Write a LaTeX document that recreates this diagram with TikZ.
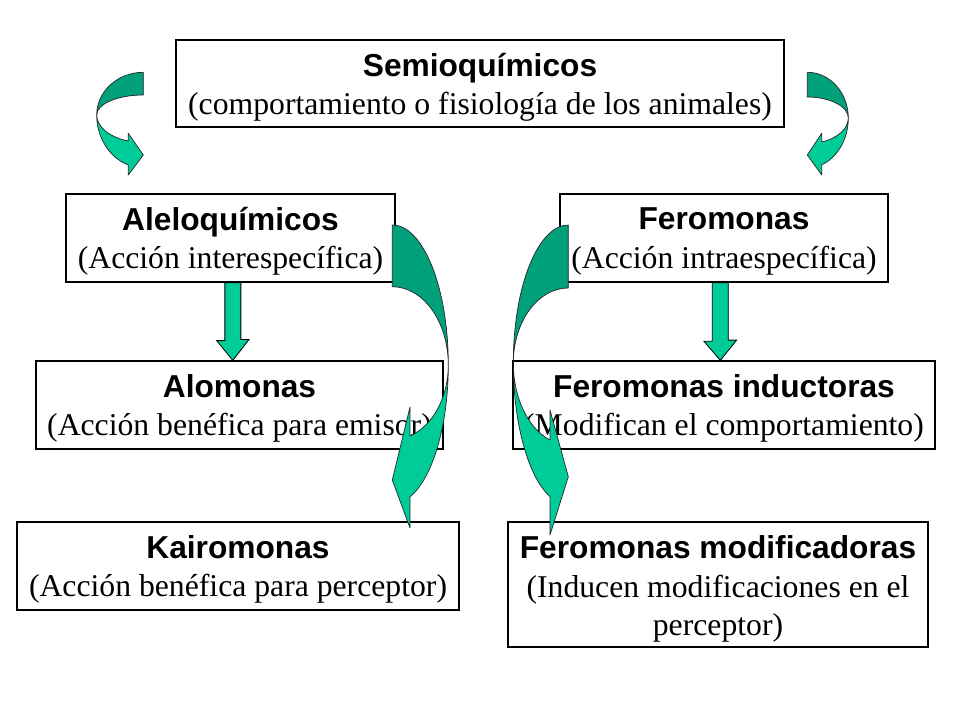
\documentclass[tikz,border=0pt]{standalone}
\usepackage{fontspec}
\setmainfont{Liberation Serif}
\setsansfont{Liberation Sans}
\usetikzlibrary{calc}
\definecolor{gdark}{RGB}{0,160,122}
\definecolor{glight}{RGB}{0,204,153}
\begin{document}
\begin{tikzpicture}[x=1pt,y=-1pt,
  box/.style={draw=black,line width=1.2pt,fill=white,rectangle,inner sep=0pt},
  txt/.style={align=center,inner sep=0pt,font={\fontsize{31.7}{38.3}\selectfont}},
  backpart/.style={fill=gdark,draw=black!85,line width=0.7pt,line join=round},
  frontpart/.style={fill=glight,draw=black!85,line width=0.7pt,line join=round},
  varrow/.style={fill=glight,draw=black,line width=0.8pt,line join=miter}]
\useasboundingbox[fill=white] (0,0) rectangle (960,720);
\newcommand{\hd}[1]{{\sffamily\bfseries #1}}
% boxes
\node[box,minimum width=608pt,minimum height=87pt] (semio) at (480,83.5) {};
\node[box,minimum width=329pt,minimum height=88pt] (alelo) at (230.5,238) {};
\node[box,minimum width=328pt,minimum height=88pt] (fero) at (724,238) {};
\node[box,minimum width=407pt,minimum height=88pt] (alom) at (239.5,405) {};
\node[box,minimum width=422pt,minimum height=88pt] (indu) at (724,405) {};
\node[box,minimum width=442pt,minimum height=88pt] (kairo) at (238,566) {};
\node[box,minimum width=420pt,minimum height=125pt] (modif) at (718,584.5) {};
% texts
\node[txt] (semio-t) at ($(semio.center)+(0,3.5)$)
  {\hd{Semioquímicos}\\(comportamiento o fisiología de los animales)};
\node[txt] (alelo-t) at ($(alelo.center)+(0,3.5)$)
  {\hd{Aleloquímicos}\\(Acción interespecífica)};
\node[txt] (fero-t) at ($(fero.center)+(0,3.5)$)
  {\hd{Feromonas}\\(Acción intraespecífica)};
\node[txt] (alom-t) at ($(alom.center)+(0,3.5)$)
  {\hd{Alomonas}\\(Acción benéfica para emisor)};
\node[txt] (indu-t) at ($(indu.center)+(0,3.5)$)
  {\hd{Feromonas inductoras}\\(Modifican el comportamiento)};
\node[txt] (kairo-t) at ($(kairo.center)+(0,3.5)$)
  {\hd{Kairomonas}\\(Acción benéfica para perceptor)};
\node[txt] (modif-t) at ($(modif.center)+(0,4.5)$)
  {\hd{Feromonas modificadoras}\\(Inducen modificaciones en el\\perceptor)};
% straight block arrows
\draw[varrow] ($(alelo.south)+(2.35-8,0)$) -- ++(0,58) -- ++(-8.2,0)
  -- ($(alom.north)+(-6.65,0)$) -- ++(16.2,-21) -- ++(-8.2,0)
  -- ($(alelo.south)+(2.35+8,0)$) -- cycle;
\draw[varrow] ($(fero.south)+(-3.7-8,0)$) -- ++(0,58.7) -- ++(-8.3,0)
  -- ($(indu.north)+(-3.7,0)$) -- ++(16.3,-20.3) -- ++(-8.3,0)
  -- ($(fero.south)+(-3.7+8,0)$) -- cycle;
% small curved arrow, left
\draw[backpart] (143.3,72.3) arc[start angle=-90,end angle=-180,x radius=46.6,y radius=42.7]
  arc[start angle=180,end angle=270,x radius=46.6,y radius=20] -- cycle;
\draw[frontpart] (96.7,115) arc[start angle=180,end angle=108.8,x radius=46.6,y radius=52.8]
  -- (128.3,175) -- (143.3,155) -- (128.3,133.3) -- (128.28,141.03)
  arc[start angle=108.8,end angle=180,x radius=46.6,y radius=27.5] -- cycle;
% small curved arrow, right
\draw[backpart] (807.3,72.3) arc[start angle=-90,end angle=0,x radius=41,y radius=45.7]
  arc[start angle=0,end angle=-90,x radius=41,y radius=21] -- cycle;
\draw[frontpart] (848.3,118) arc[start angle=0,end angle=69.45,x radius=41,y radius=50]
  -- (821.7,175) -- (807.3,155) -- (821.7,133.3) -- (821.69,141.97)
  arc[start angle=69.45,end angle=0,x radius=41,y radius=25.6] -- cycle;
% big curved arrow, left
\draw[backpart] (392.3,225) arc[start angle=-90,end angle=0,x radius=56,y radius=140]
  arc[start angle=0,end angle=-90,x radius=56,y radius=78.3] -- cycle;
\draw[frontpart] (448.3,365) arc[start angle=0,end angle=71.6,x radius=56,y radius=139]
  -- (410,528) -- (392.3,480) -- (410,407) -- (409.97,435.98)
  arc[start angle=71.6,end angle=0,x radius=56,y radius=74.8] -- cycle;
% big curved arrow, right
\draw[backpart] (568.3,225) arc[start angle=-90,end angle=-180,x radius=55,y radius=138]
  arc[start angle=180,end angle=270,x radius=55,y radius=75] -- cycle;
\draw[frontpart] (513.3,363) arc[start angle=180,end angle=109.4,x radius=55,y radius=141.8]
  -- (550,535) -- (568.3,476.7) -- (550,410) -- (550.03,440.06)
  arc[start angle=109.4,end angle=180,x radius=55,y radius=81.7] -- cycle;
\end{tikzpicture}
\end{document}
